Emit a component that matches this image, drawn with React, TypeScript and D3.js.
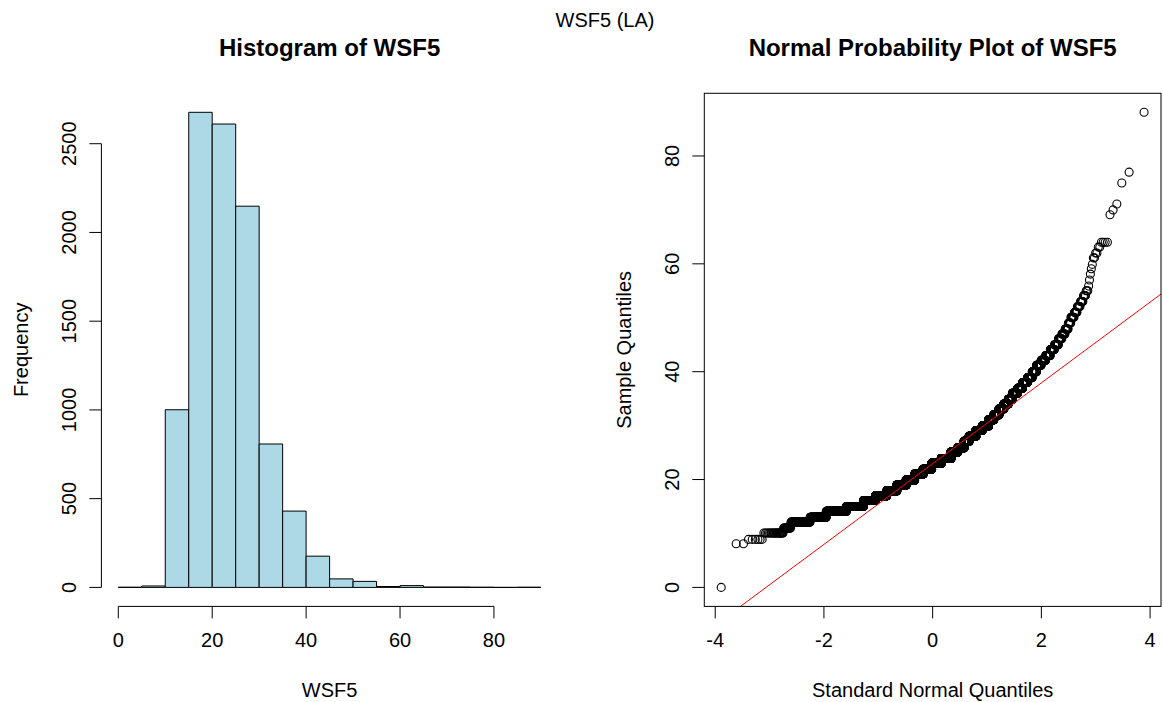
import React from "react";
import * as d3 from "d3";

// ---- data ----
// distinct WSF5 values and how many days had each value
const sampleValues = [0, 8.1, 8.9, 10.1, 11.0, 12.1, 13.0, 14.1, 15.0, 16.1, 17.0, 17.9, 19.0, 19.9, 21.0, 21.9, 23.0, 23.9, 25.1, 25.9, 27.1, 28.0, 29.1, 29.9, 31.1, 32.0, 33.1, 34.0, 34.9, 36.0, 36.9, 38.0, 38.9, 40.0, 41.2, 42.1, 43.0, 44.1, 45.0, 46.1, 47.0, 47.9, 49.0, 50.1, 51.0, 52.1, 53.0, 54.1, 55.0, 55.9, 57.0, 58.1, 59.1, 59.9, 61.1, 62.0, 63.1, 64.0, 69.1, 70.0, 71.1, 75.0, 77.0, 88.1];
const sampleCounts = [1, 2, 6, 21, 15, 75, 130, 310, 450, 450, 520, 560, 580, 567, 600, 620, 700, 691, 460, 400, 300, 380, 320, 288, 220, 190, 160, 130, 108, 120, 100, 85, 70, 55, 50, 42, 35, 27, 22, 16, 13, 11, 8, 9, 7, 6, 5, 4, 3, 1, 1, 1, 1, 1, 2, 2, 2, 4, 1, 1, 1, 1, 1, 1];

const histBreaks = [0, 5, 10, 15, 20, 25, 30, 35, 40, 45, 50, 55, 60, 65, 70, 75, 80, 85, 90];
const histXTicks = [0, 20, 40, 60, 80];
const histYTicks = [0, 500, 1000, 1500, 2000, 2500];
const qqXTicks = [-4, -2, 0, 2, 4];
const qqYTicks = [0, 20, 40, 60, 80];

const overallTitle = "WSF5 (LA)";
const histTitle = "Histogram of WSF5";
const qqTitle = "Normal Probability Plot of WSF5";

// ---- helpers ----
// inverse standard normal CDF (Acklam)
function qnorm(p: number): number {
  const a = [-3.969683028665376e1, 2.209460984245205e2, -2.759285104469687e2, 1.38357751867269e2, -3.066479806614716e1, 2.506628277459239];
  const b = [-5.447609879822406e1, 1.615858368580409e2, -1.556989798598866e2, 6.680131188771972e1, -1.328068155288572e1];
  const c = [-7.784894002430293e-3, -3.223964580411365e-1, -2.400758277161838, -2.549732539343734, 4.374664141464968, 2.938163982698783];
  const d = [7.784695709041462e-3, 3.224671290700398e-1, 2.445134137142996, 3.754408661907416];
  const pl = 0.02425;
  if (p < pl) {
    const q = Math.sqrt(-2 * Math.log(p));
    return (((((c[0] * q + c[1]) * q + c[2]) * q + c[3]) * q + c[4]) * q + c[5]) / ((((d[0] * q + d[1]) * q + d[2]) * q + d[3]) * q + 1);
  }
  if (p > 1 - pl) {
    const q = Math.sqrt(-2 * Math.log(1 - p));
    return -(((((c[0] * q + c[1]) * q + c[2]) * q + c[3]) * q + c[4]) * q + c[5]) / ((((d[0] * q + d[1]) * q + d[2]) * q + d[3]) * q + 1);
  }
  const q = p - 0.5;
  const r = q * q;
  return ((((((a[0] * r + a[1]) * r + a[2]) * r + a[3]) * r + a[4]) * r + a[5]) * q) / (((((b[0] * r + b[1]) * r + b[2]) * r + b[3]) * r + b[4]) * r + 1);
}

const FONT = "'Liberation Sans', Arial, Helvetica, sans-serif";

export default function App() {
  // expand the frequency table into the sorted sample
  const sorted: number[] = [];
  sampleValues.forEach((v, i) => {
    for (let k = 0; k < sampleCounts[i]; k++) sorted.push(v);
  });
  const n = sorted.length;

  // histogram counts, right-closed bins (R default), lowest included
  const counts = histBreaks.slice(0, -1).map((lo, i) => {
    const hi = histBreaks[i + 1];
    return sorted.filter((v) => (i === 0 ? v >= lo : v > lo) && v <= hi).length;
  });

  // ---- layout ----
  const H = { l: 101.4, r: 557.8, t: 93.3, b: 606.4 };
  const Q = { l: 704.3, r: 1161, t: 93.3, b: 606.4 };

  const hx0 = histBreaks[0], hx1 = histBreaks[histBreaks.length - 1];
  const hxPad = (hx1 - hx0) * 0.04;
  const hx = d3.scaleLinear().domain([hx0 - hxPad, hx1 + hxPad]).range([H.l, H.r]);
  const hMax = d3.max(counts) as number;
  const hy = d3.scaleLinear().domain([-hMax * 0.04, hMax * 1.04]).range([H.b, H.t]);

  const theo = sorted.map((_, i) => qnorm((i + 0.5) / n));
  const tMin = theo[0], tMax = theo[n - 1];
  const tPad = (tMax - tMin) * 0.04;
  const qx = d3.scaleLinear().domain([tMin - tPad, tMax + tPad]).range([Q.l, Q.r]);
  const sMin = sorted[0], sMax = sorted[n - 1];
  const sPad = (sMax - sMin) * 0.04;
  const qy = d3.scaleLinear().domain([sMin - sPad, sMax + sPad]).range([Q.b, Q.t]);

  // qqline through the quartiles
  const q1 = d3.quantileSorted(sorted, 0.25) as number;
  const q3 = d3.quantileSorted(sorted, 0.75) as number;
  const z1 = qnorm(0.25), z3 = qnorm(0.75);
  const slope = (q3 - q1) / (z3 - z1);
  const intercept = q1 - slope * z1;
  const [lx0, lx1] = qx.domain();

  const tickLen = 12;
  const fs = 20;

  return (
    <svg width={1163} height={702} style={{ position: "absolute", left: 0, top: 0, background: "#fff" }} fontFamily={FONT}>
      <rect x={0} y={0} width={1163} height={702} fill="#fff" />
      <defs>
        <clipPath id="qqclip">
          <rect x={Q.l} y={Q.t} width={Q.r - Q.l} height={Q.b - Q.t} />
        </clipPath>
      </defs>

      <text x={605} y={20} fontSize={fs} textAnchor="middle" dominantBaseline="central">{overallTitle}</text>

      {/* ---------- Histogram ---------- */}
      <text x={(H.l + H.r) / 2} y={47} fontSize={24} fontWeight="bold" textAnchor="middle" dominantBaseline="central">{histTitle}</text>
      <g>
        {counts.map((c, i) => {
          const x0 = hx(histBreaks[i]), x1 = hx(histBreaks[i + 1]);
          const y0 = hy(0), y1 = hy(c);
          return (
            <path key={i} d={`M${x0},${y0}H${x1}V${y1}H${x0}Z`} fill="#ADD8E6" stroke="#000" strokeWidth={1} />
          );
        })}
      </g>
      {/* y axis */}
      <line x1={H.l} x2={H.l} y1={hy(histYTicks[0])} y2={hy(histYTicks[histYTicks.length - 1])} stroke="#000" />
      {histYTicks.map((t) => (
        <g key={t}>
          <line x1={H.l - tickLen} x2={H.l} y1={hy(t)} y2={hy(t)} stroke="#000" />
          <text transform={`translate(${H.l - 32},${hy(t)}) rotate(-90)`} fontSize={fs} textAnchor="middle" dominantBaseline="central">{t}</text>
        </g>
      ))}
      {/* x axis */}
      <line x1={hx(histXTicks[0])} x2={hx(histXTicks[histXTicks.length - 1])} y1={H.b} y2={H.b} stroke="#000" />
      {histXTicks.map((t) => (
        <g key={t}>
          <line x1={hx(t)} x2={hx(t)} y1={H.b} y2={H.b + tickLen} stroke="#000" />
          <text x={hx(t)} y={H.b + 34} fontSize={fs} textAnchor="middle" dominantBaseline="central">{t}</text>
        </g>
      ))}
      <text x={(H.l + H.r) / 2} y={690} fontSize={fs} textAnchor="middle" dominantBaseline="central">WSF5</text>
      <text transform={`translate(${H.l - 80},${(H.t + H.b) / 2}) rotate(-90)`} fontSize={fs} textAnchor="middle" dominantBaseline="central">Frequency</text>

      {/* ---------- Normal probability plot ---------- */}
      <text x={(Q.l + Q.r) / 2} y={47} fontSize={24} fontWeight="bold" textAnchor="middle" dominantBaseline="central">{qqTitle}</text>
      <g fill="none" stroke="#000" strokeWidth={1.1}>
        {sorted.map((v, i) => (
          <circle key={i} cx={qx(theo[i])} cy={qy(v)} r={4} />
        ))}
      </g>
      <line
        clipPath="url(#qqclip)"
        x1={qx(lx0)} y1={qy(intercept + slope * lx0)}
        x2={qx(lx1)} y2={qy(intercept + slope * lx1)}
        stroke="#ff0000" strokeWidth={1}
      />
      <rect x={Q.l} y={Q.t} width={Q.r - Q.l} height={Q.b - Q.t} fill="none" stroke="#000" />
      {qqYTicks.map((t) => (
        <g key={t}>
          <line x1={Q.l - tickLen} x2={Q.l} y1={qy(t)} y2={qy(t)} stroke="#000" />
          <text transform={`translate(${Q.l - 32},${qy(t)}) rotate(-90)`} fontSize={fs} textAnchor="middle" dominantBaseline="central">{t}</text>
        </g>
      ))}
      {qqXTicks.map((t) => (
        <g key={t}>
          <line x1={qx(t)} x2={qx(t)} y1={Q.b} y2={Q.b + tickLen} stroke="#000" />
          <text x={qx(t)} y={Q.b + 34} fontSize={fs} textAnchor="middle" dominantBaseline="central">{t}</text>
        </g>
      ))}
      <text x={(Q.l + Q.r) / 2} y={690} fontSize={fs} textAnchor="middle" dominantBaseline="central">Standard Normal Quantiles</text>
      <text transform={`translate(${Q.l - 80},${(Q.t + Q.b) / 2}) rotate(-90)`} fontSize={fs} textAnchor="middle" dominantBaseline="central">Sample Quantiles</text>
    </svg>
  );
}
